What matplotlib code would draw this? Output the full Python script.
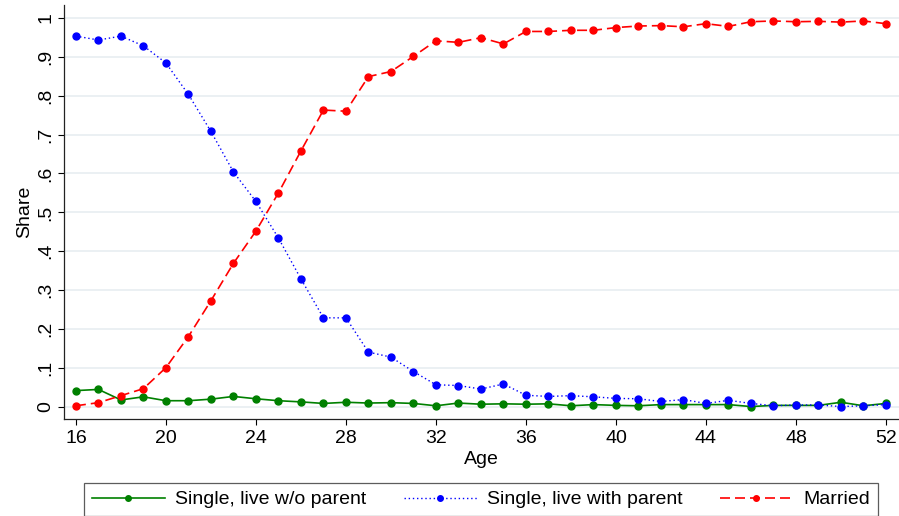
import numpy as np
import matplotlib
matplotlib.use("Agg")
import matplotlib.pyplot as plt

ages = list(range(16, 53))

single_no_parent = [0.042, 0.045, 0.018, 0.026, 0.016, 0.016, 0.020, 0.027, 0.021, 0.016,
                    0.013, 0.009, 0.012, 0.010, 0.011, 0.009, 0.003, 0.010, 0.007, 0.008,
                    0.007, 0.008, 0.003, 0.006, 0.004, 0.003, 0.006, 0.006, 0.006, 0.006,
                    0.001, 0.004, 0.004, 0.004, 0.012, 0.003, 0.009]

single_with_parent = [0.953, 0.943, 0.953, 0.928, 0.884, 0.803, 0.708, 0.604, 0.528, 0.434,
                      0.329, 0.229, 0.229, 0.141, 0.128, 0.091, 0.057, 0.055, 0.046, 0.059,
                      0.030, 0.027, 0.029, 0.026, 0.022, 0.021, 0.014, 0.019, 0.009, 0.017,
                      0.009, 0.003, 0.005, 0.005, 0.001, 0.003, 0.006]

married = [0.003, 0.011, 0.029, 0.047, 0.101, 0.181, 0.273, 0.369, 0.452, 0.550,
           0.658, 0.763, 0.760, 0.849, 0.862, 0.901, 0.941, 0.937, 0.949, 0.933,
           0.965, 0.965, 0.968, 0.968, 0.975, 0.979, 0.980, 0.977, 0.985, 0.978,
           0.990, 0.992, 0.990, 0.991, 0.989, 0.992, 0.985]

labels = ["Single, live w/o parent", "Single, live with parent", "Married"]

plt.rcParams['font.family'] = ['Liberation Sans', 'DejaVu Sans']

fig = plt.figure(figsize=(8.99, 5.16), dpi=100)
ax = fig.add_axes([64 / 899, 1 - 419 / 516, 1 - 64 / 899, (419 - 5) / 516])

ax.plot(ages, single_no_parent, color="#008000", lw=1.2, ls="-",
        marker="o", ms=5, label=labels[0])
ax.plot(ages, single_with_parent, color="#0000ff", lw=1.0, ls=(0, (1, 2)),
        marker="o", ms=5, label=labels[1])
ax.plot(ages, married, color="#ff0000", lw=1.2, ls=(0, (6, 3)),
        marker="o", ms=5, label=labels[2])

ax.set_xlim(15.47, 52.58)
ax.set_ylim(-0.031, 1.033)

ax.set_xticks(range(16, 53, 4))
yt = np.round(np.arange(0, 1.01, 0.1), 1)
ax.set_yticks(yt)
ax.set_yticklabels(["0"] + ["." + str(int(round(v * 10))) for v in yt[1:-1]] + ["1"],
                   rotation=90, va="center")
ax.tick_params(axis="both", labelsize=14, length=4, width=0.8, color="black", pad=3)
ax.tick_params(axis="x", pad=4)

ax.grid(axis="y", color="#e8eef1", lw=1.2)
ax.set_axisbelow(True)
for s in ["top", "right"]:
    ax.spines[s].set_visible(False)
for s in ["left", "bottom"]:
    ax.spines[s].set_color("#222222")
    ax.spines[s].set_linewidth(0.9)

ax.set_xlabel("Age", fontsize=14, labelpad=3)
ax.set_ylabel("Share", fontsize=14, labelpad=3)

leg = fig.legend(loc="upper left", bbox_to_anchor=(84 / 899, 0.0, (878 - 84) / 899, 1 - 483 / 516),
                 mode="expand", ncol=3, fontsize=14, handlelength=3.75, markerscale=0.8,
                 frameon=True, fancybox=False, edgecolor="#333333", borderpad=0.4,
                 handletextpad=0.55, borderaxespad=0.0)
leg.get_frame().set_linewidth(0.9)

fig.savefig("out.png", dpi=100)
